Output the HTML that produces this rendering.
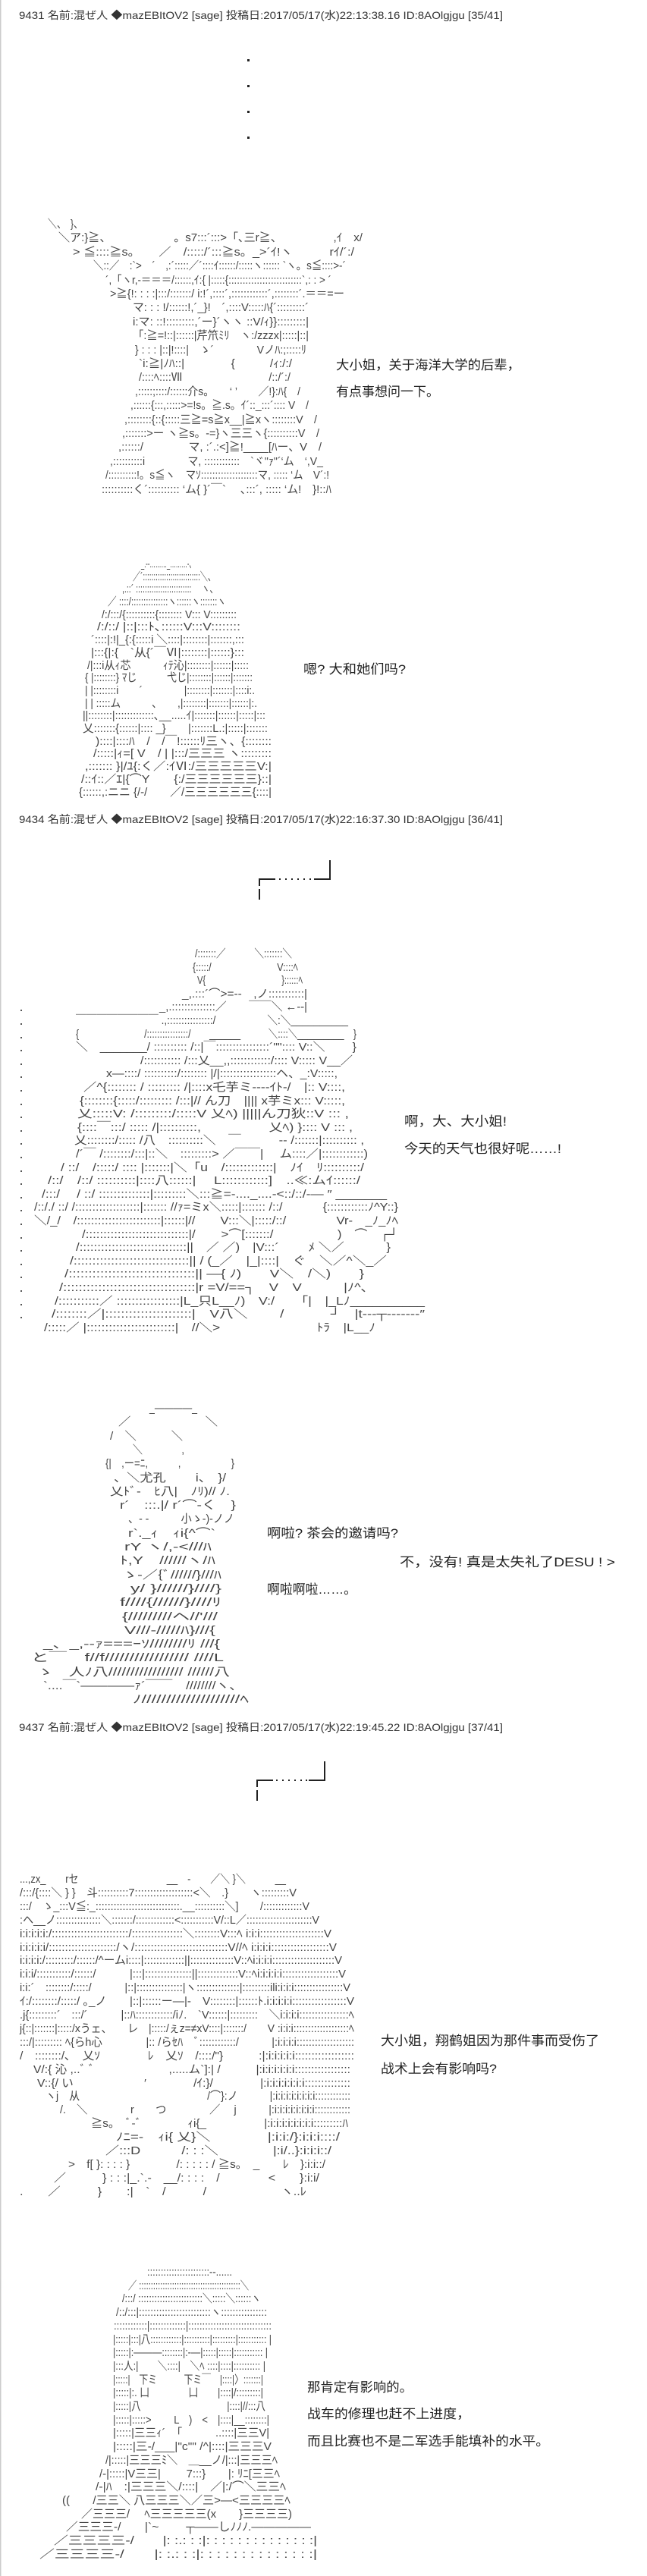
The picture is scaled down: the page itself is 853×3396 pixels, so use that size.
<!DOCTYPE html>
<html><head><meta charset="utf-8"><style>
html,body{margin:0;padding:0;background:#fff;}
svg{display:block;}
.h{font-family:"Liberation Sans","Noto Sans CJK JP",sans-serif;font-size:14px;fill:#333;}
.a{font-family:"Liberation Sans","Noto Sans CJK JP",sans-serif;font-size:15px;fill:#444;}
.t{font-family:"Liberation Sans","Noto Sans CJK SC",sans-serif;font-size:17px;fill:#222;}
</style></head><body>
<svg width="853" height="3396" viewBox="0 0 853 3396" xmlns="http://www.w3.org/2000/svg">
<rect x="0" y="0" width="853" height="3396" fill="#fff"/>
<rect x="0" y="0" width="1.5" height="3396" fill="#ccc"/>

<!-- POST 1 -->
<text class="h" x="25" y="25" textLength="638" lengthAdjust="spacingAndGlyphs">9431 名前:混ぜ人 ◆mazEBItOV2 [sage] 投稿日:2017/05/17(水)22:13:38.16 ID:8AOlgjgu [35/41]</text>
<rect x="326" y="78" width="3" height="3" fill="#222"/>
<rect x="326" y="112" width="3" height="3" fill="#222"/>
<rect x="326" y="146" width="3" height="3" fill="#222"/>
<rect x="326" y="180" width="3" height="3" fill="#222"/>

<g class="a">
<text x="63" y="300" textLength="46" lengthAdjust="spacingAndGlyphs">＼、　}、</text>
<text x="77" y="318" textLength="401" lengthAdjust="spacingAndGlyphs">＼ア:}≧、　　　　　　。s7:::´:::&gt;「､三r≧、　　　　　,ｲ　x/</text>
<text x="96" y="337" textLength="371" lengthAdjust="spacingAndGlyphs">&gt; ≦::::≧s。　　／　/:::::/´:::≧s。_&gt;´ｲ!ヽ　　　rｲ/´:/</text>
<text x="123" y="355" textLength="333" lengthAdjust="spacingAndGlyphs">＼::／　:`&gt;　´　,:´:::::／´::::ｲ::::::/:::::ヽ:::::: `ヽ。s≦::::&gt;-´</text>
<text x="139" y="374" textLength="298" lengthAdjust="spacingAndGlyphs">´,「ヽr,-＝＝＝/::::::,ｲ:{ |:::::{::::::::::::::::::::::::::`,: : &gt; ´</text>
<text x="145" y="392" textLength="309" lengthAdjust="spacingAndGlyphs">&gt;≧{!: : : :|:::/:::::::/ i:!´,::::´,::::::::::::´,::::::::´.＝＝=ー</text>
<text x="175" y="410" textLength="232" lengthAdjust="spacingAndGlyphs">マ: : : !/::::::!,´_}!　´,::::V:::::ﾊ{´:::::::::´</text>
<text x="175" y="429" textLength="232" lengthAdjust="spacingAndGlyphs">i:マ: ::!:::::::::,´ー}´ヽヽ ::V/ｨ}}:::::::::|</text>
<text x="175" y="447" textLength="232" lengthAdjust="spacingAndGlyphs">「:≧=!::|::::::|芹笊ﾐﾘ　ヽ:/zzzx|:::::|::|</text>
<text x="178" y="466" textLength="226" lengthAdjust="spacingAndGlyphs">} : : : |::|!::::|　ゝ´　　　　Vノﾊ:;:::::ﾘ</text>
<text x="183" y="484" textLength="202" lengthAdjust="spacingAndGlyphs">`i:≧|ﾉﾊ::|　　　　{　　　/ｨ:/:/</text>
<text x="183" y="502" textLength="200" lengthAdjust="spacingAndGlyphs">/::::ﾍ::::Ⅶ　　　　　　　　/::/´:/</text>
<text x="178" y="521" textLength="218" lengthAdjust="spacingAndGlyphs">,:::::;::::/::::::介s。　　‘ ’　　／!}:ﾊ{　/</text>
<text x="172" y="539" textLength="235" lengthAdjust="spacingAndGlyphs">,::::::{:::,:::::&gt;=!s。≧.s。ｲ´::_:::´:::: V　/</text>
<text x="164" y="558" textLength="254" lengthAdjust="spacingAndGlyphs">,::::::::{::{:::::三≧=s≧x__|≧xヽ::::::::V　/</text>
<text x="161" y="576" textLength="260" lengthAdjust="spacingAndGlyphs">,:::::::&gt;ー ヽ≧s。-=}ヽ三三ヽ{::::::::::V　/</text>
<text x="156" y="594" textLength="268" lengthAdjust="spacingAndGlyphs">,::::::/　　　　マ, :´.:&lt;]≧!____[ﾊー、V　/</text>
<text x="145" y="613" textLength="281" lengthAdjust="spacingAndGlyphs">,::::::::::i　　　　マ, ::::::::::::　`ヾ"ｧ"´‘ム　‘,V_</text>
<text x="139" y="631" textLength="295" lengthAdjust="spacingAndGlyphs">/::::::::::!。s≦ヽ　マｿ::::::::::::::::::::マ, ::::: ‘ム　V´:!</text>
<text x="134" y="650" textLength="303" lengthAdjust="spacingAndGlyphs">::::::::::く´:::::::::: ‘ム{ }´￣`　 ､:::´, ::::: ‘ム!　}!::ﾊ</text>
</g>
<text class="t" x="443" y="487" textLength="243" lengthAdjust="spacingAndGlyphs">大小姐，关于海洋大学的后辈，</text>
<text class="t" x="443" y="522" textLength="136" lengthAdjust="spacingAndGlyphs">有点事想问一下。</text>

<g class="a">
<text x="186" y="748" textLength="71" lengthAdjust="spacingAndGlyphs">_.-‐………_………-、</text>
<text x="175" y="765" textLength="109" lengthAdjust="spacingAndGlyphs">／´:::::::::::::::::::::::::::＼、</text>
<text x="161" y="781" textLength="126" lengthAdjust="spacingAndGlyphs">,.::´ :::::::::::::::::::::::::　 ヽ、</text>
<text x="142" y="798" textLength="156" lengthAdjust="spacingAndGlyphs">／ ::::/:::::::::::::::ヽ::::::ヽ:::::::ヽ</text>
<text x="134" y="815" textLength="178" lengthAdjust="spacingAndGlyphs">/:/:::/{::::::::::{:::::::: V::: V:::::::::</text>
<text x="128" y="831" textLength="189" lengthAdjust="spacingAndGlyphs">/:/::/ |::|:::ﾄ､::::::V:::V::::::::</text>
<text x="120" y="848" textLength="202" lengthAdjust="spacingAndGlyphs">´::::|:!|_{:{:::::i ＼::::|::::::::|:::::::,:::</text>
<text x="120" y="865" textLength="202" lengthAdjust="spacingAndGlyphs">|:::{|:{　`从{´￣Ⅵ|::::::::|::::::}:::</text>
<text x="115" y="882" textLength="213" lengthAdjust="spacingAndGlyphs">/|:::i从ｨ芯　　　ｨﾃ沁|::::::::|::::::|:::::</text>
<text x="112" y="898" textLength="221" lengthAdjust="spacingAndGlyphs">{ |::::::::} ﾏじ　　　弋じ|::::::::|::::::|:::::::</text>
<text x="112" y="915" textLength="224" lengthAdjust="spacingAndGlyphs">| |::::::::i　　´　　　　|::::::::|:::::::|::::i:.</text>
<text x="112" y="932" textLength="227" lengthAdjust="spacingAndGlyphs">| | :::::ム　　　、　　,|::::::::|:::::::|::::::|:.</text>
<text x="109" y="948" textLength="241" lengthAdjust="spacingAndGlyphs">||::::::::|:::::::::::::､__.....ｲ|:::::::|::::::|:::::|:::</text>
<text x="109" y="965" textLength="244" lengthAdjust="spacingAndGlyphs">乂:::::::{::::::|:::: _}　　|:::::::L.:|:::::|:::::::</text>
<text x="126" y="982" textLength="232" lengthAdjust="spacingAndGlyphs">)::::|::::ﾊ　/　/￣!::::::ﾘ三ヽ、{::::::::</text>
<text x="123" y="998" textLength="235" lengthAdjust="spacingAndGlyphs">/:::::|ｨ=[ V　/ | |:::/三三三 ヽ:::::::::</text>
<text x="112" y="1015" textLength="246" lengthAdjust="spacingAndGlyphs">,::::::: }|/ﾕ{:く／:ｲⅥ:/三三三三三V:|</text>
<text x="107" y="1032" textLength="251" lengthAdjust="spacingAndGlyphs">/::ｲ::／ｴ|{⌒Y　　{:/三三三三三三}::|</text>
<text x="104" y="1049" textLength="254" lengthAdjust="spacingAndGlyphs">{::::::,:ニニ {/-/　　／/三三三三三三{::::|</text>
</g>
<text class="t" x="400" y="888" textLength="135" lengthAdjust="spacingAndGlyphs">嗯? 大和她们吗?</text>

<!-- POST 2 -->
<text class="h" x="25" y="1085" textLength="638" lengthAdjust="spacingAndGlyphs">9434 名前:混ぜ人 ◆mazEBItOV2 [sage] 投稿日:2017/05/17(水)22:16:37.30 ID:8AOlgjgu [36/41]</text>
<g stroke="#222" stroke-width="2" fill="none">
<line x1="435" y1="1134" x2="435" y2="1159"/>
<line x1="341" y1="1159" x2="363" y2="1159"/>
<line x1="414" y1="1159" x2="436" y2="1159"/>
<line x1="342" y1="1159" x2="342" y2="1168"/>
<line x1="342" y1="1172" x2="342" y2="1186"/>
</g>
<g fill="#222"><rect x="368" y="1158" width="2" height="2"/><rect x="376" y="1158" width="2" height="2"/><rect x="384" y="1158" width="2" height="2"/><rect x="392" y="1158" width="2" height="2"/><rect x="400" y="1158" width="2" height="2"/><rect x="408" y="1158" width="2" height="2"/></g>

<g class="a">
<text x="257" y="1262" textLength="128" lengthAdjust="spacingAndGlyphs">/:::::::／　　　＼:::::::＼</text>
<text x="254" y="1280" textLength="139" lengthAdjust="spacingAndGlyphs">{:::::/　　　　　　　V::::ﾍ</text>
<text x="260" y="1297" textLength="139" lengthAdjust="spacingAndGlyphs">V{　　　　　　　　　}::::::ﾍ</text>
<text x="240" y="1315" textLength="165" lengthAdjust="spacingAndGlyphs">_,.:::´⌒&gt;=‐-　,ノ:::::::::::|</text>
<text x="210" y="1332" textLength="195" lengthAdjust="spacingAndGlyphs">_,.::::::::::::::／　　￣￣＼ ←‐‐|</text>
<text x="100" y="1350" textLength="359" lengthAdjust="spacingAndGlyphs">￣￣￣￣￣￣￣￣ .,::::::::::::::::/　　　　　＼:＼__________</text>
<text x="100" y="1368" textLength="370" lengthAdjust="spacingAndGlyphs">{　　　　　　　/::::::::::::::::/　　______　　　＼::::＼_________　}</text>
<text x="100" y="1385" textLength="370" lengthAdjust="spacingAndGlyphs">＼　_______/ :::::::::: /::|￣::::::::::::::::´"":::: V::＼　　 }</text>
<text x="185" y="1403" textLength="280" lengthAdjust="spacingAndGlyphs">/::::::::::: /:::乂__,,::::::::::::/:::: V::::: V__／</text>
<text x="140" y="1420" textLength="305" lengthAdjust="spacingAndGlyphs">x―::::/ ::::::::::/:::::::: |/|:::::::::::::::::ヘ、_:V:::::,</text>
<text x="110" y="1438" textLength="345" lengthAdjust="spacingAndGlyphs">／^{:::::::: / ::::::::: /|::::x乇芋ミ‐‐‐‐ｲﾄ-/　|:: V::::,</text>
<text x="105" y="1456" textLength="350" lengthAdjust="spacingAndGlyphs">{::::::::{:::::/::::::::: /:::|// ん刀　|||| x芋ミx::: V:::::,</text>
<text x="102" y="1473" textLength="358" lengthAdjust="spacingAndGlyphs">乂:::::V: /:::::::::/:::::V 乂ﾍ) |||||ん刀狄::V ::: ,</text>
<text x="102" y="1491" textLength="363" lengthAdjust="spacingAndGlyphs">{::::￣:::/ ::::: /|::::::::::,　　　　　乂ﾍ) }:::: V ::: ,</text>
<text x="98" y="1508" textLength="382" lengthAdjust="spacingAndGlyphs">乂::::::::/::::: /八　::::::::::＼　￣　　　‐- /:::::::|:::::::::: ,</text>
<text x="100" y="1526" textLength="385" lengthAdjust="spacingAndGlyphs">/´￣ /::::::::/:::|::＼　:::::::::&gt; ／￣￣| 　ム::::／|::::::::::::)</text>
<text x="80" y="1544" textLength="400" lengthAdjust="spacingAndGlyphs">/ ::/　/:::::/ :::: |:::::::|＼「u　/:::::::::::::|　ﾉｲ　ﾘ::::::::::/</text>
<text x="63" y="1561" textLength="412" lengthAdjust="spacingAndGlyphs">/::/　/::/ ::::::::::|::::八::::::|　 L::::::::::::]　..≪:ムｲ::::::/</text>
<text x="55" y="1579" textLength="455" lengthAdjust="spacingAndGlyphs">/:::/ 　/ ::/ ::::::::::::::|:::::::::＼:::≧=-...._....-&lt;::/::/‐― ″ _______</text>
<text x="45" y="1596" textLength="480" lengthAdjust="spacingAndGlyphs">/::/./ ::/ /:::::::::::::::::::|::::::: //ｧ=ミx＼:::::|::::::: /::/　　　 {::::::::::::ﾉ^Y::}</text>
<text x="45" y="1614" textLength="480" lengthAdjust="spacingAndGlyphs">＼/_/　/::::::::::::::::::::::::|::::::|//　　V:::＼|:::::/::/　　　　Vr‐　_ﾉ_ﾉﾍ</text>
<text x="108" y="1632" textLength="417" lengthAdjust="spacingAndGlyphs">/:::::::::::::::::::::::::::::|/　　&gt;⌒[:::::::/　　　　　)　⌒　┌┘</text>
<text x="100" y="1649" textLength="415" lengthAdjust="spacingAndGlyphs">/::::::::::::::::::::::::::::::||　／ ／)　|V:::´　　 ﾒ ＼／　　　 }</text>
<text x="92" y="1667" textLength="418" lengthAdjust="spacingAndGlyphs">/:::::::::::::::::::::::::::::::|| / (_／　|_|::::|　ぐ　＼／^＼_／</text>
<text x="85" y="1684" textLength="395" lengthAdjust="spacingAndGlyphs">/::::::::::::::::::::::::::::::::|| ―{ ﾉ)　　V＼　/＼)　　}</text>
<text x="78" y="1702" textLength="407" lengthAdjust="spacingAndGlyphs">/::::::::::::::::::::::::::::::::::|r =V/==┐　V　V　　　|ﾉ^､</text>
<text x="72" y="1720" textLength="488" lengthAdjust="spacingAndGlyphs">/:::::::::::／ :::::::::::::::::|L_只L__ﾉ)　V:/　　「|　|_Lﾉ__________</text>
<text x="68" y="1737" textLength="492" lengthAdjust="spacingAndGlyphs">/::::::::／|::::::::::::::::::::::|　V八＼　　 /　　　 ┘　|t‐‐‐┬‐‐‐‐‐‐‐″</text>
<text x="58" y="1755" textLength="437" lengthAdjust="spacingAndGlyphs">/:::::／ |::::::::::::::::::::::::|　//＼&gt;　　　　　　　 ﾄﾗ　|L__ﾉ</text>
</g>
<g fill="#555">
<rect x="27" y="1331" width="2" height="2"/><rect x="27" y="1349" width="2" height="2"/><rect x="27" y="1367" width="2" height="2"/><rect x="27" y="1384" width="2" height="2"/><rect x="27" y="1402" width="2" height="2"/><rect x="27" y="1419" width="2" height="2"/><rect x="27" y="1437" width="2" height="2"/><rect x="27" y="1455" width="2" height="2"/><rect x="27" y="1472" width="2" height="2"/><rect x="27" y="1490" width="2" height="2"/><rect x="27" y="1507" width="2" height="2"/><rect x="27" y="1525" width="2" height="2"/><rect x="27" y="1543" width="2" height="2"/><rect x="27" y="1560" width="2" height="2"/><rect x="27" y="1578" width="2" height="2"/><rect x="27" y="1595" width="2" height="2"/><rect x="27" y="1613" width="2" height="2"/><rect x="27" y="1631" width="2" height="2"/><rect x="27" y="1648" width="2" height="2"/><rect x="27" y="1666" width="2" height="2"/><rect x="27" y="1683" width="2" height="2"/><rect x="27" y="1701" width="2" height="2"/><rect x="27" y="1719" width="2" height="2"/><rect x="27" y="1736" width="2" height="2"/>
</g>
<text class="t" x="533" y="1484" textLength="135" lengthAdjust="spacingAndGlyphs">啊，大、大小姐!</text>
<text class="t" x="533" y="1520" textLength="207" lengthAdjust="spacingAndGlyphs">今天的天气也很好呢……!</text>

<g class="a">
<text x="197" y="1861" textLength="63" lengthAdjust="spacingAndGlyphs">_――――_</text>
<text x="156" y="1879" textLength="131" lengthAdjust="spacingAndGlyphs">／　　　　　　＼</text>
<text x="145" y="1898" textLength="96" lengthAdjust="spacingAndGlyphs">/　＼　　　＼</text>
<text x="175" y="1916" textLength="68" lengthAdjust="spacingAndGlyphs">＼　　　　,</text>
<text x="139" y="1934" textLength="170" lengthAdjust="spacingAndGlyphs">{|　,ー=ﾆ,　　　,　　　　　}</text>
<text x="150" y="1953" textLength="148" lengthAdjust="spacingAndGlyphs">、＼尤孔　　 i、　}/</text>
<text x="145" y="1971" textLength="158" lengthAdjust="spacingAndGlyphs">乂ﾄﾞ-　ﾋ八|　ﾉﾘ)// ﾉ.</text>
<text x="158" y="1989" textLength="153" lengthAdjust="spacingAndGlyphs">r´　:::.|/ r´⌒-く　}</text>
<text x="169" y="2007" textLength="140" lengthAdjust="spacingAndGlyphs">、- -　　　小ゝ-)-ノノ</text>
<text x="169" y="2026" textLength="115" lengthAdjust="spacingAndGlyphs">r`._ｨ　ｨi{^⌒`</text>
<text x="164" y="2044" textLength="115" lengthAdjust="spacingAndGlyphs">rY ヽ/,-&lt;///ﾊ</text>
<text x="158" y="2062" textLength="126" lengthAdjust="spacingAndGlyphs">ﾄ,Y　//////ヽ/ﾊ</text>
<text x="161" y="2081" textLength="131" lengthAdjust="spacingAndGlyphs">ゝ-／{ﾞ//////}///ﾊ</text>
<text x="172" y="2099" textLength="120" lengthAdjust="spacingAndGlyphs">y/ }//////}////}</text>
<text x="158" y="2117" textLength="134" lengthAdjust="spacingAndGlyphs">f////{//////}////ﾘ</text>
<text x="161" y="2136" textLength="126" lengthAdjust="spacingAndGlyphs">{/////////ヘ//'///</text>
<text x="164" y="2154" textLength="120" lengthAdjust="spacingAndGlyphs">V///-/////ﾊ}///{</text>
<text x="57" y="2172" textLength="233" lengthAdjust="spacingAndGlyphs">_、_,--ｧ===ｰｿ////////ﾘ ///{</text>
<text x="41" y="2190" textLength="254" lengthAdjust="spacingAndGlyphs">と￣　f//f///////////////// ////L</text>
<text x="49" y="2209" textLength="254" lengthAdjust="spacingAndGlyphs">ゝ　人ﾉ八///////////////// //////八</text>
<text x="57" y="2227" textLength="263" lengthAdjust="spacingAndGlyphs">`....￣`――――ｧ´￣￣　////////ヽ、</text>
<text x="175" y="2245" textLength="153" lengthAdjust="spacingAndGlyphs">ﾉ////////////////////ﾍ</text>
</g>
<text class="t" x="352" y="2027" textLength="173" lengthAdjust="spacingAndGlyphs">啊啦? 茶会的邀请吗?</text>
<text class="t" x="527" y="2065" textLength="284" lengthAdjust="spacingAndGlyphs">不，没有! 真是太失礼了DESU ! &gt;</text>
<text class="t" x="352" y="2101" textLength="118" lengthAdjust="spacingAndGlyphs">啊啦啊啦……。</text>

<!-- POST 3 -->
<text class="h" x="25" y="2282" textLength="638" lengthAdjust="spacingAndGlyphs">9437 名前:混ぜ人 ◆mazEBItOV2 [sage] 投稿日:2017/05/17(水)22:19:45.22 ID:8AOlgjgu [37/41]</text>
<g stroke="#222" stroke-width="2" fill="none">
<line x1="428" y1="2322" x2="428" y2="2347"/>
<line x1="338" y1="2347" x2="360" y2="2347"/>
<line x1="407" y1="2347" x2="429" y2="2347"/>
<line x1="339" y1="2347" x2="339" y2="2356"/>
<line x1="339" y1="2360" x2="339" y2="2374"/>
</g>
<g fill="#222"><rect x="364" y="2346" width="2" height="2"/><rect x="372" y="2346" width="2" height="2"/><rect x="380" y="2346" width="2" height="2"/><rect x="388" y="2346" width="2" height="2"/><rect x="396" y="2346" width="2" height="2"/><rect x="403" y="2346" width="2" height="2"/></g>

<g class="a">
<text x="26" y="2482" textLength="351" lengthAdjust="spacingAndGlyphs">...,zx_　　rセ　　　　　　　　　__　-　　／＼ }＼　　　__</text>
<text x="26" y="2500" textLength="365" lengthAdjust="spacingAndGlyphs">/:::/{::::＼ } }　斗::::::::::7:::::::::::::::::::&lt;＼　.}　　ヽ:::::::::V</text>
<text x="26" y="2518" textLength="382" lengthAdjust="spacingAndGlyphs">:::/　ゝ_:::V≦:_::::::::::::::::::::::::::::.__::::::::::＼]　　/:::::::::::::V</text>
<text x="26" y="2536" textLength="395" lengthAdjust="spacingAndGlyphs">:ヘ__ノ:::::::::::::::＼:::::::/:::::::::::::&lt;:::::::::::V/::L／::::::::::::::::::::::V</text>
<text x="26" y="2554" textLength="411" lengthAdjust="spacingAndGlyphs">i:i:i:i:i:/::::::::::::::::::::::::/::::::::::::::::＼::::::::V:::ﾍ i:i:i::::::::::::::::::::V</text>
<text x="26" y="2572" textLength="418" lengthAdjust="spacingAndGlyphs">i:i:i:i:i/:::::::::::::::::::::/ヽ/:::::::::::::::::::::::::::::V//ﾍ i:i:i:i::::::::::::::::::V</text>
<text x="26" y="2589" textLength="425" lengthAdjust="spacingAndGlyphs">i:i:i:i:/:::::::::/::::::/^ームi::::|:::::::::::::||::::::::::::::V::ﾍi:i:i:i::::::::::::::::::::V</text>
<text x="26" y="2607" textLength="430" lengthAdjust="spacingAndGlyphs">i:i:i/:::::::::::/::::::/　　　|:::|:::::::::::::::||:::::::::::::V::ﾍi:i:i:i:i::::::::::::::::::V</text>
<text x="26" y="2625" textLength="436" lengthAdjust="spacingAndGlyphs">i:i:´　::::::::/:::::/　　　|::|:::::::::::::::|ヽ::::::::::::::|:::::::::ili:i:i:i::::::::::::::::V</text>
<text x="26" y="2643" textLength="441" lengthAdjust="spacingAndGlyphs">ｲ:/::::::::/:::::/ ｡_ノ　　|::|::::::ー―|-　V::::::::|::::::ﾄ.i:i:i:i:i:::::::::::::::::V</text>
<text x="26" y="2661" textLength="441" lengthAdjust="spacingAndGlyphs">.j{:::::::::´　:::/´　　　|::ﾊ::::::::::::/iﾉ.　`V::::::|:::::::::　＼i:i:i:i::::::::::::::::ﾍ</text>
<text x="26" y="2679" textLength="441" lengthAdjust="spacingAndGlyphs">j{::|:::::::|:::::/xうェ、　　レ　|:::::/ぇz=≠xV::::|:::::::/　　V :i:i:i:::::::::::::::::::ﾍ</text>
<text x="26" y="2697" textLength="441" lengthAdjust="spacingAndGlyphs">:::/|::::::::: ﾍ{らh心　　　　|:: /らｾﾊ　ﾞ::::::::::::/　　　|:i:i:i:i:::::::::::::::::::</text>
<text x="26" y="2715" textLength="441" lengthAdjust="spacingAndGlyphs">/　::::::::/､　乂ｿ　　　　ﾚ　乂ｿ　/::::/"}　　　:|:i:i:i:i:i::::::::::::::::::</text>
<text x="44" y="2733" textLength="418" lengthAdjust="spacingAndGlyphs">V/:{ 沁 ,..ﾞ ﾞ　　　　　　 ,.....ム`]:| /　　　|:i:i:i:i:i:i:::::::::::::::::</text>
<text x="49" y="2751" textLength="413" lengthAdjust="spacingAndGlyphs">V::{/ い　　　　　　′　　　　/ｲ:}/　　　　|:i:i:i:i:i:i:i::::::::::::::</text>
<text x="60" y="2768" textLength="402" lengthAdjust="spacingAndGlyphs">ヽj　从　　　　　　　　　　　　/⌒}:ノ　　　|:i:i:i:i:i:i:i:i::::::::::::</text>
<text x="79" y="2786" textLength="383" lengthAdjust="spacingAndGlyphs">/.　＼　　　　r　　つ　　　　／　 j　　　|:i:i:i:i:i:i:i:i::::::::::::</text>
<text x="120" y="2804" textLength="339" lengthAdjust="spacingAndGlyphs">≧s。　ﾞ-ﾞ　　　　ｨi{_　　　　　|:i:i:i:i:i:i:i:i:::::::::ﾊ</text>
<text x="153" y="2822" textLength="295" lengthAdjust="spacingAndGlyphs">ﾉﾆ=-　ｨi{ 乂}＼　　　　|:i:i:/}:i:i:i::::/</text>
<text x="139" y="2840" textLength="298" lengthAdjust="spacingAndGlyphs">／:::D　　　/: : :＼　　　　|:i/..}:i:i:i::/</text>
<text x="90" y="2858" textLength="339" lengthAdjust="spacingAndGlyphs">&gt;　f[ }: : : : }　　　　/: : : : : / ≧s。　_　　ﾚ　}:i:i::/</text>
<text x="71" y="2876" textLength="350" lengthAdjust="spacingAndGlyphs">／　　　} : : :|_.`.‐　__/: : : :　/　　　　&lt;　　}:i:i/</text>
<text x="26" y="2894" textLength="378" lengthAdjust="spacingAndGlyphs">.　　／　　　}　　:|　`　/　　　/　　　　　　ヽ..ﾚ</text>
</g>
<text class="t" x="502" y="2696" textLength="288" lengthAdjust="spacingAndGlyphs">大小姐，翔鹤姐因为那件事而受伤了</text>
<text class="t" x="502" y="2733" textLength="153" lengthAdjust="spacingAndGlyphs">战术上会有影响吗?</text>

<g class="a">
<text x="194" y="3000" textLength="112" lengthAdjust="spacingAndGlyphs">:::::::::::::::::::::::‐-......</text>
<text x="169" y="3018" textLength="159" lengthAdjust="spacingAndGlyphs">／ :::::::::::::::::::::::::::::::::::::::::::＼</text>
<text x="161" y="3035" textLength="183" lengthAdjust="spacingAndGlyphs">/:::/ ::::::::::::::::::::::::＼:::::＼::::::ヽ</text>
<text x="153" y="3053" textLength="199" lengthAdjust="spacingAndGlyphs">/::/:::|:::::::::::::::::::::::::ヽ::::::::::::::::</text>
<text x="150" y="3071" textLength="208" lengthAdjust="spacingAndGlyphs">::::::::::::|:::::::::::::|::::::::::::::::::::::::::::::</text>
<text x="149" y="3089" textLength="209" lengthAdjust="spacingAndGlyphs">|:::::|:::|八::::::::::::|::::::::::|:::::::::|::::::::::: |</text>
<text x="149" y="3106" textLength="204" lengthAdjust="spacingAndGlyphs">|:::::|:―――::::::::|:-―|:::::|:::::|::::::::::: |</text>
<text x="149" y="3124" textLength="201" lengthAdjust="spacingAndGlyphs">|:::人:|　　＼::::|　＼ﾍ ::::|::::|:::::::::: |</text>
<text x="149" y="3142" textLength="198" lengthAdjust="spacingAndGlyphs">|:::::|　下ミ　　　下ミ￣　|::::|〉:::::::|</text>
<text x="149" y="3159" textLength="198" lengthAdjust="spacingAndGlyphs">|:::::|:. 凵　　　　凵　　|::::|/:::::::::|</text>
<text x="149" y="3177" textLength="201" lengthAdjust="spacingAndGlyphs">|:::::|八　　　　　　　　　|::::|//:::八</text>
<text x="149" y="3195" textLength="206" lengthAdjust="spacingAndGlyphs">|:::::|:::::&gt; 　　L　)　&lt;　|::::|__::::::::|</text>
<text x="149" y="3212" textLength="206" lengthAdjust="spacingAndGlyphs">|:::::|三三ｨ´　「　　　..::::|三三V|</text>
<text x="149" y="3230" textLength="209" lengthAdjust="spacingAndGlyphs">|:::::|三-/___|"c"" /^|::::|三三三V</text>
<text x="139" y="3248" textLength="227" lengthAdjust="spacingAndGlyphs">/|:::::|三三三ﾐ＼　＿__ノ/|:::|三三三ﾍ</text>
<text x="131" y="3266" textLength="238" lengthAdjust="spacingAndGlyphs">/-|:::::|V三三|　　 7:::}　　|: ﾘﾆ[三三ﾍ</text>
<text x="126" y="3283" textLength="251" lengthAdjust="spacingAndGlyphs">/-|ﾊ　:|三三三＼/::::|　／|:/⌒＼三三ﾍ</text>
<text x="82" y="3301" textLength="301" lengthAdjust="spacingAndGlyphs">((　　/三三＼ 八三三三＼／三&gt;―&lt;三三三三ﾍ</text>
<text x="107" y="3319" textLength="278" lengthAdjust="spacingAndGlyphs">／三三三/　 ﾍ三三三三三(x　　}三三三三)</text>
<text x="87" y="3336" textLength="323" lengthAdjust="spacingAndGlyphs">／三三三-/　　|`~　　 ┬――しﾉﾉﾉ.―――――</text>
<text x="71" y="3354" textLength="347" lengthAdjust="spacingAndGlyphs">／三三三三-/　　|: :.: : :|: : : : : : : : : : : : : :|</text>
<text x="52" y="3372" textLength="366" lengthAdjust="spacingAndGlyphs">／三三三三-/　　|: :.: : :|: : : : : : : : : : : : : :|</text>
</g>
<text class="t" x="405" y="3153" textLength="139" lengthAdjust="spacingAndGlyphs">那肯定有影响的。</text>
<text class="t" x="405" y="3188" textLength="215" lengthAdjust="spacingAndGlyphs">战车的修理也赶不上进度，</text>
<text class="t" x="405" y="3224" textLength="319" lengthAdjust="spacingAndGlyphs">而且比赛也不是二军选手能填补的水平。</text>
</svg>
</body></html>
